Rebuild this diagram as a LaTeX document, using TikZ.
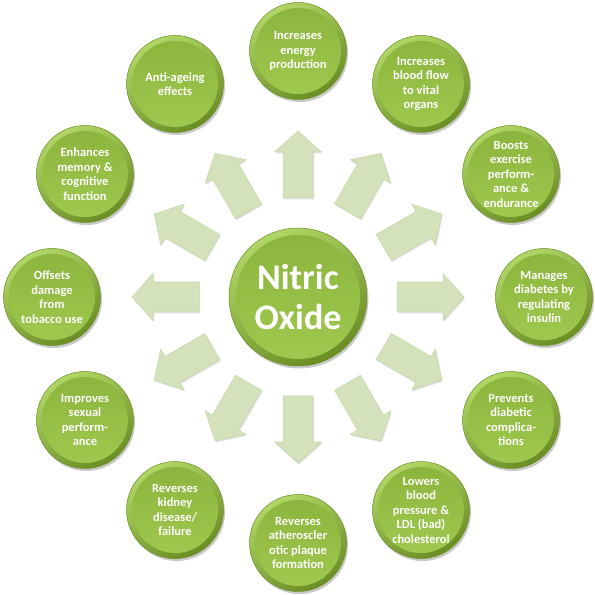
\documentclass[tikz,border=0pt]{standalone}
\usepackage{fontspec}
\setmainfont{Carlito}
\usetikzlibrary{calc,shadows}
\definecolor{arrfill}{HTML}{D4E2BC}
\definecolor{arredge}{HTML}{C4D6A6}
\definecolor{ringlight}{HTML}{B0D666}
\definecolor{ringdark}{HTML}{6A8E24}
\definecolor{intop}{HTML}{8AB43B}
\definecolor{inbot}{HTML}{A0C950}
\definecolor{bubedge}{HTML}{6B8E23}
\begin{document}
\begin{tikzpicture}[x=1pt,y=1pt,
  bub/.style={circle, minimum size=97pt, inner sep=0pt, text=white,
    font=\bfseries\fontsize{12.5}{14.5}\selectfont, align=center,
    draw=bubedge, line width=0.5pt,
    shading=axis, top color=ringlight, bottom color=ringdark, shading angle=30,
    drop shadow={shadow xshift=1.5pt, shadow yshift=-2.5pt, opacity=0.3, fill=black!70},
    path picture={\shade[top color=intop, bottom color=inbot]
      (path picture bounding box.center) circle (43pt);}},
  hub/.style={bub, minimum size=138pt, font=\bfseries\fontsize{36}{40}\selectfont,
    path picture={\shade[top color=intop, bottom color=inbot]
      (path picture bounding box.center) circle (62pt);}},
  blk/.style={fill=arrfill, draw=arredge, line width=0.5pt,
    drop shadow={shadow xshift=1pt, shadow yshift=-1.5pt, opacity=0.2, fill=black!60}}
]
\useasboundingbox (0,0) rectangle (595,595);
\node[hub] (c0) at (298,298) {Nitric\\Oxide};
\node[bub] (c1) at ($(c0)+(90:246)$) {Increases\\energy\\production};
\node[bub] (c2) at ($(c0)+(60:246)$) {Increases\\blood flow\\to vital\\organs};
\node[bub] (c3) at ($(c0)+(30:246)$) {Boosts\\exercise\\perform-\\ance \&\\endurance};
\node[bub] (c4) at ($(c0)+(0:246)$) {Manages\\diabetes by\\regulating\\insulin};
\node[bub] (c5) at ($(c0)+(-30:246)$) {Prevents\\diabetic\\complica-\\tions};
\node[bub] (c6) at ($(c0)+(-60:246)$) {Lowers\\blood\\pressure \&\\LDL (bad)\\cholesterol};
\node[bub] (c7) at ($(c0)+(-90:246)$) {Reverses\\atheroscler\\otic plaque\\formation};
\node[bub] (c8) at ($(c0)+(-120:246)$) {Reverses\\kidney\\disease/\\failure};
\node[bub] (c9) at ($(c0)+(-150:246)$) {Improves\\sexual\\perform-\\ance};
\node[bub] (c10) at ($(c0)+(180:246)$) {Offsets\\damage\\from\\tobacco use};
\node[bub] (c11) at ($(c0)+(150:246)$) {Enhances\\memory \&\\cognitive\\function};
\node[bub] (c12) at ($(c0)+(120:246)$) {Anti-ageing\\effects};
\foreach \a in {90,60,30,0,-30,-60,-90,-120,-150,180,150,120}{
  \begin{scope}[shift={(c0)}, rotate=\a]
    \path[blk] (99,-15) -- (145,-15) -- (145,-23.5) -- (166,0) -- (145,23.5)
      -- (145,15) -- (99,15) -- cycle;
  \end{scope}
}
\end{tikzpicture}
\end{document}
